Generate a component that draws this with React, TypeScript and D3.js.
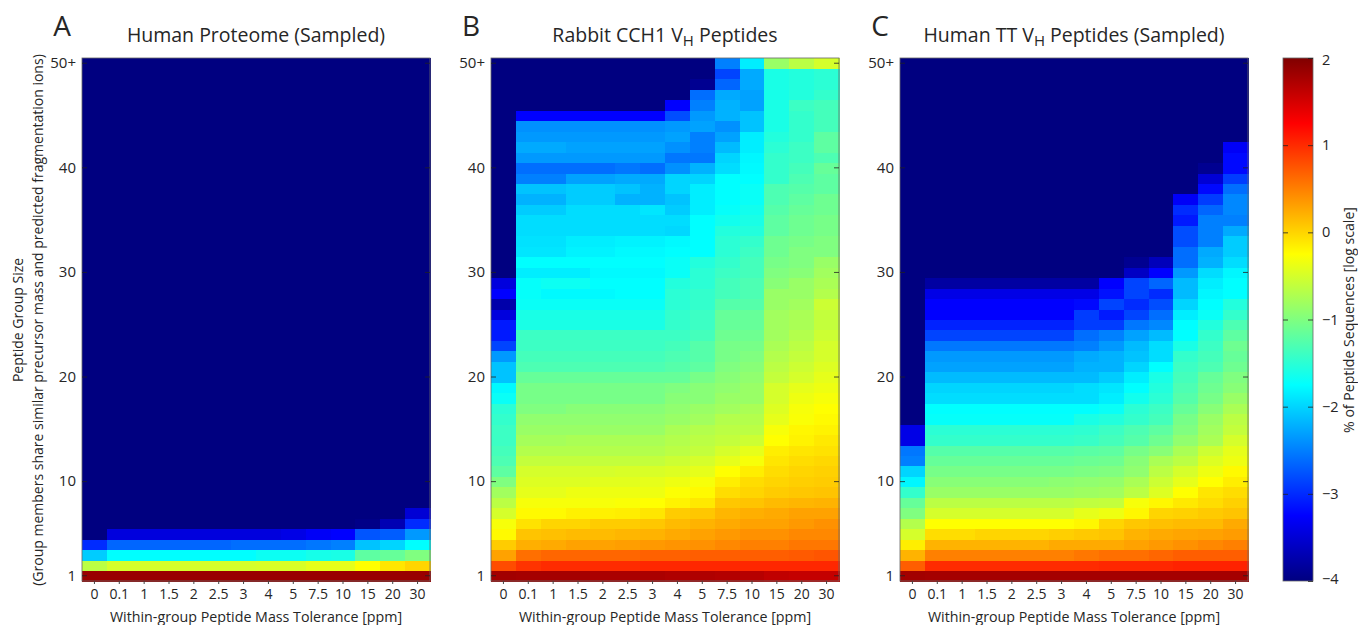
import React, { useEffect, useRef } from "react";
import * as d3 from "d3";

// values are log10(% of peptide sequences)
const tolerances = ["0", "0.1", "1", "1.5", "2", "2.5", "3", "4", "5", "7.5", "10", "15", "20", "30"];
const groupTicks = [1, 10, 20, 30, 40, 50];
const colorTicks = [-4, -3, -2, -1, 0, 1, 2];
const FLOOR = -4;

// rows are listed from group size 1 upwards, rows not listed are empty
const humanProteome = [
  [1.85, 1.85, 1.85, 1.85, 1.85, 1.85, 1.85, 1.85, 1.85, 1.85, 1.85, 1.85, 1.85, 1.85],
  [-0.65, -0.5, -0.5, -0.5, -0.5, -0.5, -0.5, -0.48, -0.48, -0.4, -0.4, -0.25, -0.1, 0],
  [-2.05, -1.75, -1.75, -1.75, -1.75, -1.75, -1.75, -1.68, -1.68, -1.62, -1.6, -1.2, -1.15, -1],
  [-3, -2.65, -2.65, -2.65, -2.65, -2.65, -2.6, -2.6, -2.6, -2.55, -2.5, -2.1, -2, -1.75],
  [-4, -3.45, -3.45, -3.45, -3.45, -3.45, -3.45, -3.45, -3.4, -3.3, -3.25, -2.75, -2.7, -2.35],
  [-4, -4, -4, -4, -4, -4, -4, -4, -4, -4, -4, -3.95, -3.7, -3],
  [-4, -4, -4, -4, -4, -4, -4, -4, -4, -4, -4, -4, -4, -3.5],
];

const rabbitCch1 = [
  [1.8, 1.78, 1.78, 1.78, 1.75, 1.75, 1.75, 1.72, 1.72, 1.7, 1.68, 1.62, 1.6, 1.6],
  [0.8, 0.95, 1, 1, 1, 1, 1.02, 1.02, 1.02, 1.02, 1.02, 1.02, 1.02, 1.02],
  [0.3, 0.6, 0.65, 0.65, 0.65, 0.65, 0.68, 0.68, 0.7, 0.7, 0.7, 0.7, 0.72, 0.75],
  [0.05, 0.22, 0.25, 0.3, 0.3, 0.32, 0.35, 0.38, 0.4, 0.45, 0.5, 0.5, 0.55, 0.55],
  [-0.22, 0.1, 0.12, 0.15, 0.15, 0.18, 0.2, 0.25, 0.3, 0.35, 0.4, 0.4, 0.45, 0.45],
  [-0.3, -0.08, 0, 0, 0.05, 0.05, 0.08, 0.15, 0.2, 0.25, 0.3, 0.3, 0.35, 0.4],
  [-0.5, -0.22, -0.22, -0.17, -0.17, -0.15, -0.1, 0.05, 0.08, 0.18, 0.22, 0.25, 0.3, 0.3],
  [-0.65, -0.3, -0.3, -0.3, -0.3, -0.28, -0.25, -0.18, -0.12, 0.08, 0.1, 0.15, 0.18, 0.2],
  [-0.8, -0.4, -0.4, -0.35, -0.35, -0.35, -0.35, -0.27, -0.22, -0.05, 0, 0.05, 0.08, 0.1],
  [-1, -0.45, -0.45, -0.45, -0.42, -0.42, -0.4, -0.35, -0.3, -0.15, -0.05, 0, 0.03, 0.05],
  [-1.2, -0.5, -0.5, -0.5, -0.5, -0.48, -0.48, -0.45, -0.4, -0.25, -0.15, -0.05, 0, 0.02],
  [-1.3, -0.6, -0.6, -0.6, -0.6, -0.6, -0.6, -0.55, -0.5, -0.4, -0.3, -0.1, -0.05, -0.02],
  [-1.35, -0.7, -0.7, -0.7, -0.7, -0.7, -0.7, -0.65, -0.6, -0.5, -0.4, -0.15, -0.1, -0.08],
  [-1.4, -0.78, -0.78, -0.75, -0.75, -0.75, -0.75, -0.7, -0.65, -0.6, -0.55, -0.25, -0.18, -0.12],
  [-1.4, -0.85, -0.85, -0.85, -0.85, -0.85, -0.85, -0.75, -0.7, -0.65, -0.65, -0.3, -0.2, -0.18],
  [-1.45, -0.9, -0.9, -0.9, -0.9, -0.9, -0.9, -0.85, -0.8, -0.7, -0.7, -0.4, -0.28, -0.22],
  [-1.5, -1, -1, -0.95, -0.95, -0.95, -0.95, -0.9, -0.85, -0.8, -0.75, -0.45, -0.3, -0.25],
  [-1.7, -1.05, -1.05, -1.05, -1.05, -1.05, -1.05, -0.95, -0.95, -0.85, -0.85, -0.5, -0.35, -0.3],
  [-1.78, -1.05, -1.05, -1.05, -1.05, -1.05, -1.05, -1, -0.95, -0.9, -0.85, -0.5, -0.4, -0.35],
  [-2.1, -1.15, -1.15, -1.15, -1.15, -1.15, -1.15, -1.15, -1.05, -0.95, -0.9, -0.6, -0.5, -0.4],
  [-2.1, -1.3, -1.3, -1.3, -1.3, -1.3, -1.3, -1.25, -1.2, -1, -0.95, -0.65, -0.55, -0.45],
  [-2.35, -1.35, -1.35, -1.35, -1.35, -1.35, -1.35, -1.3, -1.25, -1.05, -1, -0.7, -0.6, -0.5],
  [-2.85, -1.4, -1.4, -1.4, -1.4, -1.4, -1.4, -1.35, -1.25, -1.05, -1.05, -0.75, -0.65, -0.5],
  [-3.1, -1.4, -1.4, -1.4, -1.4, -1.4, -1.4, -1.4, -1.35, -1.1, -1.1, -0.8, -0.7, -0.55],
  [-3.1, -1.6, -1.6, -1.6, -1.6, -1.6, -1.6, -1.45, -1.4, -1.15, -1.15, -0.8, -0.75, -0.6],
  [-3.45, -1.6, -1.6, -1.6, -1.6, -1.6, -1.6, -1.45, -1.4, -1.15, -1.15, -0.8, -0.75, -0.6],
  [-3.75, -1.7, -1.7, -1.7, -1.7, -1.7, -1.7, -1.5, -1.45, -1.25, -1.25, -0.85, -0.8, -0.55],
  [-3.25, -1.72, -1.78, -1.78, -1.78, -1.75, -1.75, -1.5, -1.45, -1.35, -1.3, -0.85, -0.85, -0.7],
  [-3.45, -1.72, -1.68, -1.68, -1.75, -1.75, -1.75, -1.55, -1.5, -1.35, -1.3, -0.95, -0.85, -0.75],
  [-4, -1.85, -1.85, -1.85, -1.78, -1.78, -1.78, -1.7, -1.5, -1.4, -1.35, -1, -0.95, -0.8],
  [-4, -1.75, -1.75, -1.75, -1.75, -1.75, -1.75, -1.7, -1.55, -1.45, -1.35, -1.05, -1, -0.85],
  [-4, -1.9, -1.9, -1.82, -1.82, -1.78, -1.78, -1.75, -1.75, -1.5, -1.4, -1.1, -1, -1],
  [-4, -1.92, -1.92, -1.85, -1.85, -1.82, -1.82, -1.78, -1.75, -1.5, -1.45, -1.1, -1.05, -1],
  [-4, -1.95, -1.95, -1.95, -1.95, -1.95, -1.95, -1.98, -1.75, -1.55, -1.55, -1.2, -1.1, -1.05],
  [-4, -1.95, -1.95, -1.95, -1.95, -1.95, -1.95, -1.95, -1.75, -1.65, -1.6, -1.2, -1.1, -1.05],
  [-4, -2.05, -2.05, -1.95, -1.95, -1.95, -1.9, -2.05, -1.85, -1.72, -1.65, -1.25, -1.15, -1.1],
  [-4, -2.2, -2.2, -2.05, -2.05, -2.2, -2.2, -2.1, -1.85, -1.75, -1.7, -1.3, -1.2, -1.1],
  [-4, -2.1, -2.1, -2.05, -2.05, -2.1, -2.2, -2, -1.85, -1.75, -1.7, -1.3, -1.25, -1.2],
  [-4, -2.5, -2.5, -2.3, -2.3, -2.25, -2.25, -2, -2, -1.75, -1.75, -1.45, -1.3, -1.2],
  [-4, -2.6, -2.6, -2.6, -2.6, -2.55, -2.6, -2.4, -2.2, -1.95, -1.78, -1.45, -1.35, -1.15],
  [-4, -2.35, -2.35, -2.35, -2.35, -2.35, -2.35, -2.55, -2.55, -2, -1.8, -1.45, -1.4, -1.3],
  [-4, -2.25, -2.25, -2.3, -2.3, -2.3, -2.3, -2.4, -2.5, -2.15, -1.85, -1.5, -1.4, -1.2],
  [-4, -2.35, -2.35, -2.35, -2.35, -2.35, -2.35, -2.3, -2.5, -2.3, -1.85, -1.55, -1.45, -1.2],
  [-4, -2.4, -2.4, -2.4, -2.4, -2.4, -2.4, -2.35, -2.3, -2.4, -2.1, -1.6, -1.45, -1.35],
  [-4, -3.25, -3.25, -3.25, -3.25, -3.25, -3.25, -2.8, -2.35, -2.2, -2.1, -1.6, -1.45, -1.35],
  [-4, -4, -4, -4, -4, -4, -4, -3.25, -2.5, -2.2, -2.3, -1.6, -1.4, -1.35],
  [-4, -4, -4, -4, -4, -4, -4, -4, -2.6, -2.25, -2.3, -1.62, -1.55, -1.45],
  [-4, -4, -4, -4, -4, -4, -4, -4, -3.9, -2.65, -2.25, -1.6, -1.55, -1.5],
  [-4, -4, -4, -4, -4, -4, -4, -4, -4, -2.85, -2.25, -1.6, -1.55, -1.5],
  [-4, -4, -4, -4, -4, -4, -4, -4, -4, -2.5, -1.85, -0.85, -0.65, -0.5],
];

const humanTt = [
  [1.8, 1.78, 1.78, 1.78, 1.78, 1.78, 1.78, 1.78, 1.78, 1.78, 1.78, 1.78, 1.78, 1.78],
  [0.7, 1, 1, 1, 1, 1, 1, 1, 1.02, 1.02, 1.02, 1.05, 1.05, 1.05],
  [0.2, 0.5, 0.5, 0.5, 0.5, 0.5, 0.5, 0.55, 0.6, 0.6, 0.65, 0.7, 0.7, 0.7],
  [-0.15, 0.2, 0.2, 0.2, 0.2, 0.2, 0.25, 0.25, 0.25, 0.3, 0.35, 0.4, 0.45, 0.5],
  [-0.5, -0.05, -0.05, 0, 0, 0, 0.03, 0.07, 0.1, 0.2, 0.25, 0.28, 0.3, 0.33],
  [-0.7, -0.25, -0.25, -0.25, -0.25, -0.25, -0.25, -0.2, 0, 0.08, 0.12, 0.15, 0.15, 0.25],
  [-1, -0.5, -0.5, -0.5, -0.5, -0.5, -0.5, -0.4, -0.35, -0.2, 0, 0.02, 0.06, 0.1],
  [-1.15, -0.65, -0.65, -0.65, -0.65, -0.65, -0.65, -0.62, -0.6, -0.3, -0.2, -0.12, -0.05, 0.02],
  [-1.45, -0.85, -0.85, -0.85, -0.85, -0.85, -0.85, -0.82, -0.8, -0.65, -0.45, -0.25, -0.1, -0.05],
  [-1.8, -0.95, -0.95, -0.95, -0.95, -0.95, -0.92, -0.9, -0.88, -0.75, -0.55, -0.4, -0.25, -0.15],
  [-2, -1.05, -1.05, -1.05, -1.05, -1.05, -1.05, -1.02, -1, -0.9, -0.65, -0.5, -0.35, -0.22],
  [-2.5, -1.15, -1.15, -1.15, -1.15, -1.15, -1.15, -1.12, -1.1, -0.95, -0.75, -0.65, -0.45, -0.35],
  [-2.55, -1.25, -1.25, -1.25, -1.25, -1.25, -1.25, -1.22, -1.2, -1.05, -0.95, -0.75, -0.55, -0.4],
  [-3.4, -1.45, -1.45, -1.45, -1.45, -1.45, -1.45, -1.42, -1.35, -1.25, -1.1, -0.9, -0.75, -0.5],
  [-3.4, -1.5, -1.5, -1.5, -1.5, -1.5, -1.5, -1.48, -1.4, -1.3, -1.2, -1, -0.8, -0.6],
  [-4, -1.72, -1.72, -1.72, -1.72, -1.72, -1.72, -1.6, -1.55, -1.45, -1.35, -1.05, -0.85, -0.65],
  [-4, -1.75, -1.75, -1.75, -1.75, -1.75, -1.75, -1.75, -1.7, -1.5, -1.4, -1.15, -0.95, -0.75],
  [-4, -1.95, -1.95, -1.95, -1.95, -1.95, -1.95, -1.95, -1.85, -1.65, -1.5, -1.25, -1.05, -0.85],
  [-4, -2, -2, -2, -2, -2, -2, -1.95, -1.9, -1.75, -1.55, -1.3, -1.1, -0.95],
  [-4, -2.15, -2.15, -2.15, -2.15, -2.15, -2.15, -2.15, -2.05, -1.85, -1.6, -1.35, -1.15, -1],
  [-4, -2.3, -2.3, -2.3, -2.3, -2.3, -2.3, -2.2, -2.2, -2, -1.75, -1.4, -1.3, -1.1],
  [-4, -2.35, -2.35, -2.35, -2.35, -2.35, -2.35, -2.25, -2.2, -2.1, -1.95, -1.45, -1.35, -1.15],
  [-4, -2.55, -2.55, -2.55, -2.55, -2.55, -2.55, -2.5, -2.35, -2.15, -1.95, -1.6, -1.4, -1.1],
  [-4, -2.85, -2.85, -2.85, -2.85, -2.85, -2.85, -2.6, -2.5, -2.3, -2.15, -1.75, -1.45, -1.2],
  [-4, -3.05, -3.05, -3.05, -3.05, -3.05, -3.05, -2.9, -2.9, -2.55, -2.45, -1.75, -1.55, -1.3],
  [-4, -3.25, -3.25, -3.25, -3.25, -3.25, -3.25, -2.9, -3.1, -2.85, -2.6, -1.85, -1.7, -1.45],
  [-4, -3.25, -3.25, -3.25, -3.25, -3.25, -3.25, -3.2, -2.85, -3, -2.8, -2, -1.75, -1.55],
  [-4, -3.4, -3.4, -3.4, -3.4, -3.4, -3.4, -3.4, -3.15, -2.85, -3, -2.15, -1.8, -1.75],
  [-4, -3.8, -3.8, -3.8, -3.8, -3.8, -3.8, -3.8, -3.25, -2.85, -2.65, -2.15, -1.85, -1.75],
  [-4, -4, -4, -4, -4, -4, -4, -4, -4, -3.6, -3.25, -2.35, -1.95, -1.8],
  [-4, -4, -4, -4, -4, -4, -4, -4, -4, -3.9, -3.65, -2.6, -2.2, -1.95],
  [-4, -4, -4, -4, -4, -4, -4, -4, -4, -4, -4, -2.6, -2.25, -2.05],
  [-4, -4, -4, -4, -4, -4, -4, -4, -4, -4, -4, -2.8, -2.5, -2.05],
  [-4, -4, -4, -4, -4, -4, -4, -4, -4, -4, -4, -2.8, -2.5, -2.25],
  [-4, -4, -4, -4, -4, -4, -4, -4, -4, -4, -4, -3.1, -2.5, -2.5],
  [-4, -4, -4, -4, -4, -4, -4, -4, -4, -4, -4, -3, -2.65, -2.45],
  [-4, -4, -4, -4, -4, -4, -4, -4, -4, -4, -4, -3.3, -2.9, -2.45],
  [-4, -4, -4, -4, -4, -4, -4, -4, -4, -4, -4, -4, -3.2, -2.6],
  [-4, -4, -4, -4, -4, -4, -4, -4, -4, -4, -4, -4, -3.5, -2.9],
  [-4, -4, -4, -4, -4, -4, -4, -4, -4, -4, -4, -4, -3.9, -3.2],
  [-4, -4, -4, -4, -4, -4, -4, -4, -4, -4, -4, -4, -4, -3.2],
  [-4, -4, -4, -4, -4, -4, -4, -4, -4, -4, -4, -4, -4, -3.3],
];

const panels = [
  { letter: "A", title: "Human Proteome (Sampled)", sub: null, rows: humanProteome, left: 82 },
  { letter: "B", title: "Rabbit CCH1 V", sub: " Peptides", rows: rabbitCch1, left: 491 },
  { letter: "C", title: "Human TT V", sub: " Peptides (Sampled)", rows: humanTt, left: 900 },
];

const FONT = "'Open Sans', sans-serif";
const TEXT = "#262626";

const App = () => {
  const svgRef = useRef<SVGSVGElement>(null);

  useEffect(() => {
    const svg = d3.select(svgRef.current);
    svg.selectAll("*").remove();

    const top = 58, bottom = 581, plotWidth = 348;

    // jet colormap over the -4..2 colour bar range
    const color = d3.scaleLinear<string>()
      .domain([-4, -3.25, -1.75, -0.25, 1.25, 2])
      .range(["#000080", "#0000ff", "#00ffff", "#ffff00", "#ff0000", "#800000"])
      .clamp(true);

    const sizes = d3.range(1, 51);
    const x = d3.scaleBand<string>().domain(tolerances).range([0, plotWidth]);
    const y = d3.scaleBand<number>().domain(sizes).range([bottom, top]);

    panels.forEach(p => {
      const g = svg.append("g").attr("transform", `translate(${p.left},0)`);

      const cells = sizes.flatMap(s =>
        tolerances.map((t, i) => ({
          s, t,
          v: p.rows[s - 1] ? p.rows[s - 1][i] : FLOOR,
        }))
      );

      g.append("g")
        .attr("shape-rendering", "crispEdges")
        .selectAll("rect")
        .data(cells)
        .enter()
        .append("rect")
        .attr("x", d => x(d.t))
        .attr("y", d => y(d.s))
        .attr("width", x.bandwidth() + 0.5)
        .attr("height", y.bandwidth() + 0.5)
        .attr("fill", d => color(d.v));

      g.append("rect")
        .attr("width", plotWidth)
        .attr("y", top)
        .attr("height", bottom - top)
        .attr("fill", "none")
        .attr("stroke", "#666")
        .attr("stroke-width", 0.8);

      const xAxis = g.append("g")
        .attr("transform", `translate(0,${bottom})`)
        .call(d3.axisBottom(x).tickSize(3).tickPadding(5));
      xAxis.select(".domain").remove();
      xAxis.selectAll("line").attr("stroke", "#444");
      xAxis.selectAll("text")
        .attr("font-family", FONT)
        .attr("font-size", 14)
        .attr("fill", TEXT);

      const yAxis = g.append("g")
        .call(d3.axisLeft(y)
          .tickValues(groupTicks)
          .tickFormat(d => (d === 50 ? "50+" : String(d)))
          .tickSize(-5)
          .tickPadding(6));
      yAxis.select(".domain").remove();
      yAxis.selectAll("line").attr("stroke", "#222").attr("stroke-width", 0.8);
      yAxis.selectAll("text")
        .attr("font-family", FONT)
        .attr("font-size", 15)
        .attr("fill", TEXT);

      const yRight = g.append("g")
        .attr("transform", `translate(${plotWidth},0)`)
        .call(d3.axisRight(y).tickValues(groupTicks).tickSize(-5).tickFormat(() => ""));
      yRight.select(".domain").remove();
      yRight.selectAll("line").attr("stroke", "#222").attr("stroke-width", 0.8);

      g.append("text")
        .attr("x", plotWidth / 2)
        .attr("y", 622)
        .attr("text-anchor", "middle")
        .attr("font-family", FONT)
        .attr("font-size", 14.25)
        .attr("fill", TEXT)
        .text("Within-group Peptide Mass Tolerance [ppm]");

      const title = g.append("text")
        .attr("x", plotWidth / 2)
        .attr("y", 42)
        .attr("text-anchor", "middle")
        .attr("font-family", FONT)
        .attr("font-size", 19.5)
        .attr("fill", TEXT)
        .text(p.title);
      if (p.sub) {
        title.append("tspan").attr("dy", 4).attr("font-size", 15).text("H");
        title.append("tspan").attr("dy", -4).text(p.sub);
      }

      g.append("text")
        .attr("x", -20)
        .attr("y", 36)
        .attr("text-anchor", "middle")
        .attr("font-family", FONT)
        .attr("font-size", 28)
        .attr("fill", TEXT)
        .text(p.letter);
    });

    // y title is only on the first panel
    [["Peptide Group Size", 23], ["(Group members share similar precursor mass and predicted fragmentation ions)", 43]]
      .forEach(([label, pos]) => {
        svg.append("text")
          .attr("transform", `translate(${pos},320) rotate(-90)`)
          .attr("text-anchor", "middle")
          .attr("font-family", FONT)
          .attr("font-size", 14)
          .attr("fill", TEXT)
          .text(label as string);
      });

    // colour bar
    const barLeft = 1283, barWidth = 30;
    const c = d3.scaleLinear().domain([-4, 2]).range([bottom, top]);
    const bar = svg.append("g").attr("transform", `translate(${barLeft},0)`);

    const grad = svg.append("defs").append("linearGradient")
      .attr("id", "jet")
      .attr("x1", 0).attr("x2", 0).attr("y1", 1).attr("y2", 0);
    color.domain().forEach(v => {
      grad.append("stop")
        .attr("offset", (v + 4) / 6)
        .attr("stop-color", color(v));
    });

    bar.append("rect")
      .attr("y", top)
      .attr("width", barWidth)
      .attr("height", bottom - top)
      .attr("fill", "url(#jet)")
      .attr("stroke", "#666")
      .attr("stroke-width", 0.8);

    const cAxis = bar.append("g")
      .attr("transform", `translate(${barWidth},0)`)
      .call(d3.axisRight(c)
        .tickValues(colorTicks)
        .tickFormat(d => String(d).replace("-", "\u2212"))
        .tickSize(-5)
        .tickPadding(9));
    cAxis.select(".domain").remove();
    cAxis.selectAll("line").attr("stroke", "#222").attr("stroke-width", 0.8);
    cAxis.selectAll("text")
      .attr("font-family", FONT)
      .attr("font-size", 14.5)
      .attr("fill", TEXT)
      .attr("dy", d => (d === 2 ? "0.45em" : d === -4 ? "0.15em" : "0.32em"));

    const cLeft = bar.append("g")
      .call(d3.axisLeft(c).tickValues(colorTicks.slice(1, -1)).tickSize(-5).tickFormat(() => ""));
    cLeft.select(".domain").remove();
    cLeft.selectAll("line").attr("stroke", "#222").attr("stroke-width", 0.8);

    svg.append("text")
      .attr("transform", "translate(1354,320) rotate(-90)")
      .attr("text-anchor", "middle")
      .attr("font-family", FONT)
      .attr("font-size", 14.1)
      .attr("fill", TEXT)
      .text("% of Peptide Sequences [log scale]");
  }, []);

  return (
    <svg
      ref={svgRef}
      width={1358}
      height={625}
      style={{ position: "absolute", left: 0, top: 0, background: "#fff" }}
    />
  );
};

export default App;
